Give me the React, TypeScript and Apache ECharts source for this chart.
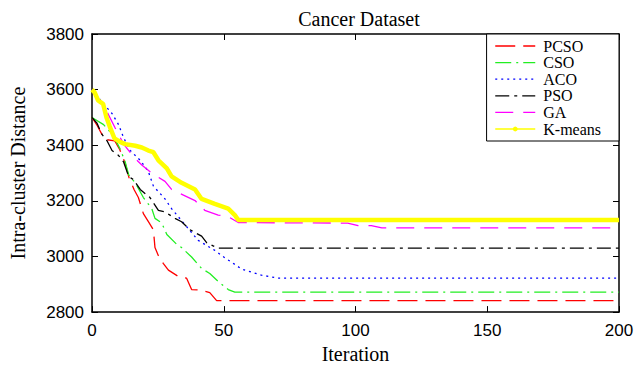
import React, { useEffect, useRef } from "react";
import * as echarts from "echarts";

const seriesNames = ["PCSO", "CSO", "ACO", "PSO", "GA", "K-means"];
const xTicks = [0, 50, 100, 150, 200];
const yTicks = [2800, 3000, 3200, 3400, 3600, 3800];

const pcsoIter = [0, 2, 4.8, 8.6, 10.5, 12.6, 14, 16, 17.6, 19.5, 21.4, 23.3, 23.9, 25.2, 27.1, 29, 32.8, 35.9, 37.8, 41.6, 44.7, 47.3, 200];
const pcsoVal = [3500, 3470, 3421, 3416, 3385, 3335, 3285, 3240, 3212, 3154, 3125, 3096, 3032, 3003, 2974, 2951, 2928, 2922, 2881, 2879, 2870, 2841, 2841];

const csoIter = [0, 4.4, 8.2, 10.7, 12.6, 13.9, 16.4, 19.5, 22.7, 23.9, 26.5, 28.4, 32.1, 34, 37.8, 41.6, 44.7, 47.9, 51.7, 54.2, 200];
const csoVal = [3500, 3474, 3433, 3386, 3340, 3294, 3265, 3212, 3172, 3137, 3120, 3079, 3044, 3032, 2998, 2957, 2939, 2910, 2881, 2872, 2872];

const acoIter = [0, 3.8, 7.6, 10.1, 12, 14.5, 18.3, 21.4, 23.3, 27.7, 30.2, 35.3, 40.3, 46.6, 50.4, 52.9, 56.7, 64.3, 70.6, 200];
const acoVal = [3600, 3555, 3514, 3474, 3427, 3381, 3346, 3305, 3253, 3207, 3172, 3114, 3058, 3022, 2995, 2980, 2955, 2933, 2922, 2922];

const psoIter = [0, 1.9, 3.8, 5.7, 7.6, 10.1, 12, 13.9, 15.8, 18.3, 22, 25.2, 27.7, 31.5, 34, 37.2, 41.6, 43.5, 46, 47.9, 200];
const psoVal = [3500, 3479, 3439, 3416, 3381, 3363, 3340, 3288, 3276, 3241, 3212, 3166, 3160, 3137, 3125, 3096, 3073, 3050, 3038, 3030, 3030];

const gaIter = [0, 2.5, 5.7, 8.8, 12, 15.8, 18.9, 22.7, 27.7, 30.2, 35.3, 39.1, 42.8, 47.9, 51.7, 55.5, 97, 101, 106, 110, 200];
const gaVal = [3600, 3567, 3520, 3462, 3404, 3358, 3329, 3299, 3270, 3241, 3218, 3201, 3166, 3149, 3143, 3122, 3120, 3111, 3111, 3103, 3103];

const kmIter = [0, 1, 2.3, 4.2, 5.5, 6.7, 8.5, 11, 12.6, 16.4, 18.9, 21.4, 23.3, 25.2, 28.4, 30.2, 34, 39.1, 41.6, 46.6, 51.7, 54.2, 55.5, 200];
const kmVal = [3600, 3590, 3561, 3549, 3500, 3468, 3425, 3410, 3404, 3398, 3392, 3381, 3375, 3346, 3317, 3288, 3265, 3241, 3207, 3189, 3172, 3149, 3131, 3131];

const zip = (xs: number[], ys: number[]) => xs.map((x, i) => [x, ys[i]]);

export default function App() {
  const ref = useRef<HTMLDivElement>(null);
  useEffect(() => {
    if (!ref.current) return;
    const chart = echarts.init(ref.current, null, { renderer: "svg" });
    const serif = "Liberation Serif";
    const sans = "Liberation Sans";
    const mkLine = (name: string, data: number[][], color: string, type: any, width = 1.3) => ({
      name,
      type: "line",
      data,
      symbol: "none",
      color,
      lineStyle: { color, type, width },
      emphasis: { disabled: true },
    });
    const hideSym = { itemStyle: { opacity: 0 } };
    chart.setOption({
      animation: false,
      backgroundColor: "#ffffff",
      title: {
        text: "Cancer Dataset",
        left: 354,
        textAlign: "center",
        top: 4,
        textStyle: { fontFamily: serif, fontSize: 20, fontWeight: "normal", color: "#000" },
      },
      grid: { left: 90, right: 24, top: 34, bottom: 49, containLabel: false },
      legend: {
        orient: "vertical",
        right: 24,
        top: 34,
        itemWidth: 40,
        itemHeight: 6,
        itemGap: 0.6,
        padding: [4, 18, 4, 8],
        backgroundColor: "#ffffff",
        borderColor: "#000",
        borderWidth: 1,
        borderRadius: 0,
        lineStyle: { width: 1.3 },
        textStyle: { fontFamily: serif, fontSize: 16, lineHeight: 14, color: "#000", padding: [0, 0, 0, 3] },
        data: [
          { name: "PCSO", ...hideSym },
          { name: "CSO", ...hideSym },
          { name: "ACO", ...hideSym },
          { name: "PSO", ...hideSym },
          { name: "GA", ...hideSym },
          { name: "K-means", itemStyle: { color: "#ffff00" } },
        ],
      },
      xAxis: [
        {
          type: "value",
          min: xTicks[0],
          max: xTicks[xTicks.length - 1],
          interval: 50,
          name: "Iteration",
          nameLocation: "middle",
          nameGap: 25,
          nameTextStyle: { fontFamily: serif, fontSize: 20, color: "#000" },
          axisLine: { show: true, onZero: false, lineStyle: { color: "#000", width: 1.5 } },
          axisTick: { inside: true, length: 6, lineStyle: { color: "#000", width: 1 } },
          axisLabel: { margin: 10, fontFamily: sans, fontSize: 17, color: "#000", formatter: (v: number) => String(v) },
          splitLine: { show: false },
        },
        {
          type: "value",
          position: "top",
          min: xTicks[0],
          max: xTicks[xTicks.length - 1],
          interval: 50,
          axisLine: { show: true, onZero: false, lineStyle: { color: "#000", width: 1.5 } },
          axisTick: { inside: true, length: 6, lineStyle: { color: "#000", width: 1 } },
          axisLabel: { show: false },
          splitLine: { show: false },
        },
      ],
      yAxis: [
        {
          type: "value",
          min: yTicks[0],
          max: yTicks[yTicks.length - 1],
          interval: 200,
          name: "Intra-cluster Distance",
          nameLocation: "middle",
          nameGap: 64,
          nameTextStyle: { fontFamily: serif, fontSize: 20, color: "#000" },
          axisLine: { show: true, onZero: false, lineStyle: { color: "#000", width: 1.5 } },
          axisTick: { inside: true, length: 6, lineStyle: { color: "#000", width: 1 } },
          axisLabel: { margin: 8, fontFamily: sans, fontSize: 17, color: "#000", formatter: (v: number) => String(v) },
          splitLine: { show: false },
        },
        {
          type: "value",
          position: "right",
          min: yTicks[0],
          max: yTicks[yTicks.length - 1],
          interval: 200,
          axisLine: { show: true, onZero: false, lineStyle: { color: "#000", width: 1.5 } },
          axisTick: { inside: true, length: 6, lineStyle: { color: "#000", width: 1 } },
          axisLabel: { show: false },
          splitLine: { show: false },
        },
      ],
      series: [
        mkLine(seriesNames[0], zip(pcsoIter, pcsoVal), "#ff0000", [20, 8]),
        mkLine(seriesNames[1], zip(csoIter, csoVal), "#22ee22", [16, 5, 2, 5]),
        mkLine(seriesNames[2], zip(acoIter, acoVal), "#0000ff", [2, 4]),
        mkLine(seriesNames[3], zip(psoIter, psoVal), "#000000", [14, 5, 3, 5]),
        mkLine(seriesNames[4], zip(gaIter, gaVal), "#ff00ff", [18, 10]),
        {
          name: seriesNames[5],
          type: "line",
          data: zip(kmIter, kmVal),
          symbol: "circle",
          symbolSize: 4,
          showSymbol: false,
          color: "#ffff00",
          lineStyle: { color: "#ffff00", width: 4.5 },
          emphasis: { disabled: true },
        },
      ],
    });
    return () => chart.dispose();
  }, []);
  return <div ref={ref} style={{ width: 643, height: 369, position: "absolute", left: 0, top: 0 }} />;
}
